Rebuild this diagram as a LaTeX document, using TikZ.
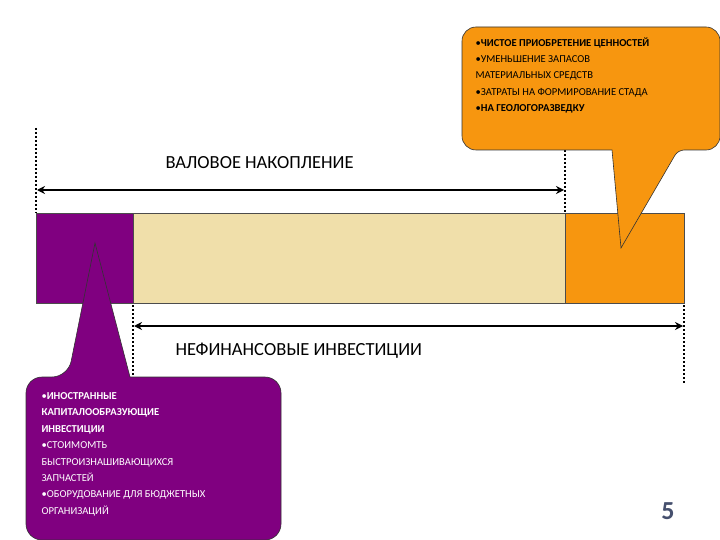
\documentclass[tikz,border=0pt]{standalone}
\usepackage{fontspec}
\usetikzlibrary{arrows.meta}
\setmainfont{Carlito}
\begin{document}
\begin{tikzpicture}[x=1pt,y=-1pt,
  dots/.style={line width=2.2pt,dash pattern=on 2pt off 2pt},
  dim/.style={line width=2.2pt,{Stealth[length=8pt,width=8pt]}-{Stealth[length=8pt,width=8pt]}},
  bar/.style={draw=black!70,line width=0.6pt},
  lbl/.style={anchor=west,font=\fontsize{18.5}{20}\selectfont},
  ctext/.style={anchor=north west,align=left,font=\fontsize{10.6}{16.4}\selectfont}]
\useasboundingbox (0,0) rectangle (720,540);
\definecolor{org}{HTML}{F7960F}
\definecolor{pur}{HTML}{800080}
\definecolor{beig}{HTML}{F0DFAA}
% bars
\path[bar,fill=pur] (36,213) rectangle (133,303);
\path[bar,fill=beig] (133,213) rectangle (565,303);
\path[bar,fill=org] (565,213) rectangle (684,303);
% dotted
\coordinate (a1) at (36,128); \coordinate (a2) at (36,213);
\coordinate (b1) at (565,150); \coordinate (b2) at (565,213);
\coordinate (c1) at (133,305); \coordinate (c2) at (133,377);
\coordinate (d1) at (684,305); \coordinate (d2) at (684,383);
\draw[dots] (a1)--(a2); \draw[dots] (b1)--(b2);
\draw[dots] (c1)--(c2); \draw[dots] (d1)--(d2);
\coordinate (t1) at (37,190); \coordinate (t2) at (564,190);
\coordinate (u1) at (134,326); \coordinate (u2) at (683,326);
\draw[dim] (t1)--(t2);
\draw[dim] (u1)--(u2);
\node[lbl] (l1) at (162,163) {ВАЛОВОЕ НАКОПЛЕНИЕ};
\node[lbl] (l2) at (172,351) {НЕФИНАНСОВЫЕ ИНВЕСТИЦИИ};
% top callout
\draw[fill=org,draw=black!80,line width=0.6pt,rounded corners=14pt]
  (462,27) -- (720,27) -- (720,150) [rounded corners=6pt] -- (678,150) [sharp corners]-- (621,248) -- (612,150) [rounded corners=14pt] -- (462,150) -- cycle;
\node[ctext] (tc) at (472,34) {•\textbf{ЧИСТОЕ ПРИОБРЕТЕНИЕ ЦЕННОСТЕЙ}\\•УМЕНЬШЕНИЕ ЗАПАСОВ\\МАТЕРИАЛЬНЫХ СРЕДСТВ\\•ЗАТРАТЫ НА ФОРМИРОВАНИЕ СТАДА\\•\textbf{НА ГЕОЛОГОРАЗВЕДКУ}};
% bottom callout
\draw[fill=pur,draw=black!80,line width=0.6pt,rounded corners=16pt]
  (26,377) -- (68,377) [sharp corners]-- (95,243) -- (130,377) [rounded corners=16pt] -- (281,377) -- (281,540) -- (26,540) -- cycle;
\node[ctext,text=white] (bc) at (38,389) {•\textbf{ИНОСТРАННЫЕ}\\\textbf{КАПИТАЛООБРАЗУЮЩИЕ}\\\textbf{ИНВЕСТИЦИИ}\\•СТОИМОМТЬ\\БЫСТРОИЗНАШИВАЮЩИХСЯ\\ЗАПЧАСТЕЙ\\•ОБОРУДОВАНИЕ ДЛЯ БЮДЖЕТНЫХ\\ОРГАНИЗАЦИЙ};
\node[font=\bfseries\fontsize{26}{28}\selectfont,text={rgb,255:red,70;green,80;blue,110}] (n5) at (668,511) {5};
\end{tikzpicture}
\end{document}
